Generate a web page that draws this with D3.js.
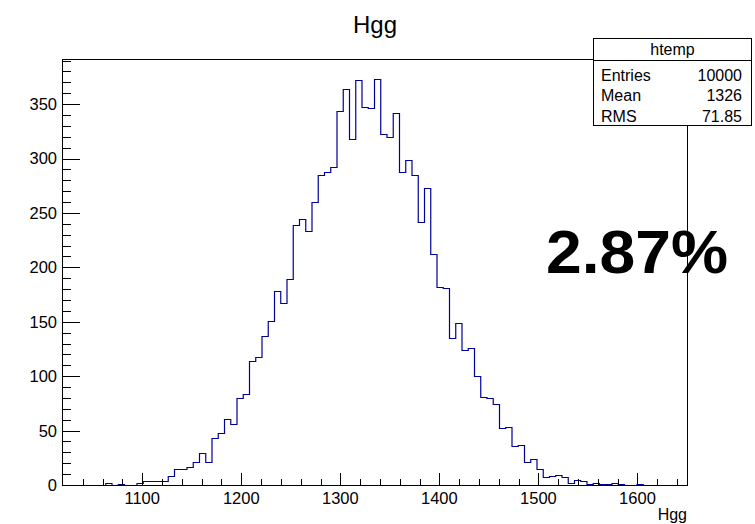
<!DOCTYPE html>
<html lang="en">
<head>
    <meta charset="UTF-8">
    <title>Hgg</title>
    <script src="https://cdn.jsdelivr.net/npm/d3@7"></script>
    <style>
        body { margin: 0; background: #fff; }
        text { font-family: "Liberation Sans", Arial, Helvetica, sans-serif; fill: #000; }
    </style>
</head>
<body>
<script>

    // histogram settings
    var binLow = 1019, binHigh = 1650, nBins = 100;
    var counts = [
        0, 0, 0, 0, 0, 0, 0, 2, 0, 1,
        0, 0, 2, 4, 4, 4, 4, 8, 15, 15,
        17, 21, 29, 21, 43, 48, 61, 56, 80, 84,
        114, 118, 137, 151, 178, 167, 189, 239, 244, 233,
        260, 285, 288, 292, 344, 364, 318, 372, 347, 346,
        373, 323, 320, 342, 288, 299, 285, 242, 273, 212,
        182, 181, 135, 149, 124, 126, 100, 81, 80, 74,
        52, 53, 36, 37, 21, 24, 15, 7, 8, 9,
        7, 2, 5, 4, 1, 2, 1, 1, 2, 1,
        0, 0, 1, 0, 0, 0, 0, 0, 0, 0
    ];
    var yMax = 391;
    var yTicks = [0, 50, 100, 150, 200, 250, 300, 350];
    var xTicks = [1100, 1200, 1300, 1400, 1500, 1600];
    var statNames = ["Entries", "Mean", "RMS"];
    var statValues = ["10000", "1326", "71.85"];
    var histTitle = "Hgg", xTitle = "Hgg", statTitle = "htemp", bigText = "2.87%";

    var widthSVG = 755, heightSVG = 524;
    var frame = {left: 62, top: 59.5, right: 687, bottom: 485};

    var svg = d3.select("body").append("svg")
                .attr("width", widthSVG)
                .attr("height", heightSVG);

    var x = d3.scaleLinear().domain([binLow, binHigh]).range([frame.left, frame.right]);
    var y = d3.scaleLinear().domain([0, yMax]).range([frame.bottom, frame.top]);
    var binW = (binHigh - binLow) / nBins;

    //title
    svg.append("text")
        .attr("x", 375).attr("y", 33)
        .attr("text-anchor", "middle")
        .attr("font-size", "24px")
        .text(histTitle);

    //histogram outline
    var pts = [[binLow, 0]];
    counts.forEach(function (c, i){
        pts.push([binLow + i * binW, c]);
        pts.push([binLow + (i + 1) * binW, c]);
    });
    pts.push([binHigh, 0]);

    var line = d3.line()
                .x(function (d){ return x(d[0]); })
                .y(function (d){ return Math.round(y(d[1])) + 0.5; });

    svg.append("path")
        .attr("d", line(pts))
        .attr("fill", "none")
        .attr("stroke", "#000099")
        .attr("stroke-width", 1.2);

    //frame
    var g = svg.append("g").attr("shape-rendering", "crispEdges").attr("stroke", "#000");
    g.append("rect")
        .attr("x", frame.left + 0.5).attr("y", frame.top)
        .attr("width", frame.right - frame.left).attr("height", frame.bottom - frame.top)
        .attr("fill", "none");

    //y axis ticks
    var yMinor = d3.range(0, yMax, 10);
    g.selectAll(".ymin").data(yMinor).enter().append("line")
        .attr("x1", frame.left).attr("x2", function (d){ return d % 50 === 0 ? frame.left + 18 : frame.left + 9; })
        .attr("y1", function (d){ return Math.round(y(d)) + 0.5; })
        .attr("y2", function (d){ return Math.round(y(d)) + 0.5; });

    svg.selectAll(".ylab").data(yTicks).enter().append("text")
        .attr("x", 57).attr("y", function (d){ return y(d); })
        .attr("dy", "0.36em")
        .attr("text-anchor", "end")
        .attr("font-size", "16.5px")
        .text(function (d){ return d; });

    //x axis ticks
    var xMinor = d3.range(1020, binHigh, 20).filter(function (d){ return d > binLow + 2; });
    g.selectAll(".xmin").data(xMinor).enter().append("line")
        .attr("x1", function (d){ return Math.round(x(d)) + 0.5; })
        .attr("x2", function (d){ return Math.round(x(d)) + 0.5; })
        .attr("y1", frame.bottom)
        .attr("y2", function (d){ return d % 100 === 0 ? frame.bottom - 12 : frame.bottom - 6; });

    svg.selectAll(".xlab").data(xTicks).enter().append("text")
        .attr("x", function (d){ return x(d); }).attr("y", 504)
        .attr("text-anchor", "middle")
        .attr("font-size", "16.5px")
        .text(function (d){ return d; });

    svg.append("text")
        .attr("x", frame.right).attr("y", 520)
        .attr("text-anchor", "end")
        .attr("font-size", "16px")
        .text(xTitle);

    //stats box
    var sb = {x: 593.5, y: 38.5, w: 158, h: 87};
    var sg = svg.append("g");
    sg.append("rect")
        .attr("x", sb.x).attr("y", sb.y).attr("width", sb.w).attr("height", sb.h)
        .attr("fill", "#fff").attr("stroke", "#000").attr("shape-rendering", "crispEdges");
    sg.append("line")
        .attr("x1", sb.x).attr("x2", sb.x + sb.w).attr("y1", 60.5).attr("y2", 60.5)
        .attr("stroke", "#000").attr("shape-rendering", "crispEdges");
    sg.append("text")
        .attr("x", sb.x + sb.w / 2).attr("y", 55)
        .attr("text-anchor", "middle").attr("font-size", "16px")
        .text(statTitle);
    statNames.forEach(function (n, i){
        sg.append("text").attr("x", 601).attr("y", 80.5 + i * 20.7)
            .attr("font-size", "16px").text(n);
        sg.append("text").attr("x", 742).attr("y", 80.5 + i * 20.7)
            .attr("text-anchor", "end").attr("font-size", "16px").text(statValues[i]);
    });

    //big text
    svg.append("text")
        .attr("x", 546).attr("y", 272.5)
        .attr("font-size", "62px").attr("font-weight", "bold")
        .attr("textLength", 182).attr("lengthAdjust", "spacingAndGlyphs")
        .text(bigText);

</script>
</body>
</html>
